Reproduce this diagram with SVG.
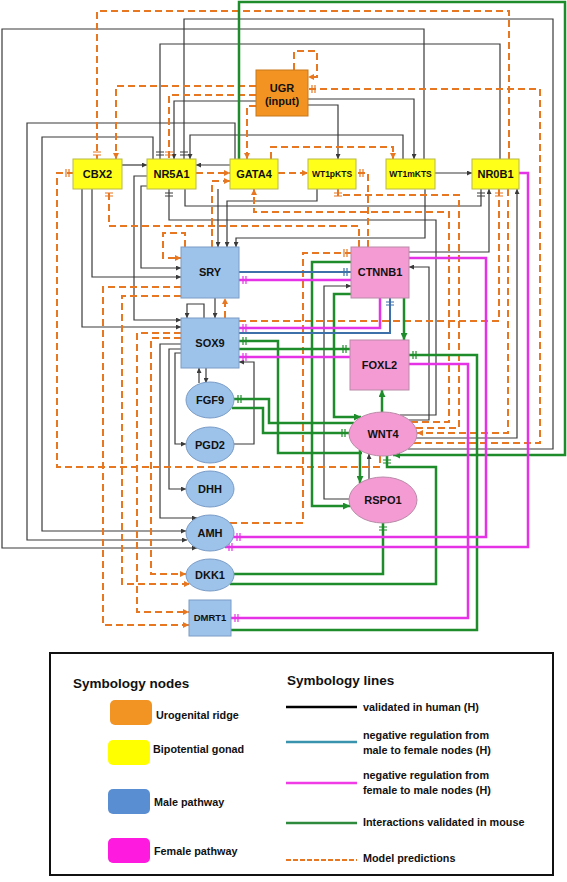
<svg xmlns="http://www.w3.org/2000/svg" width="567" height="882" viewBox="0 0 567 882">
<defs>
<style>
.k{stroke:#3a3a3a;stroke-width:1.2;fill:none}
.o{stroke:#E87722;stroke-width:2;stroke-dasharray:7 4;fill:none}
.g{stroke:#1E8C2A;stroke-width:2.5;fill:none}
.m{stroke:#E632E6;stroke-width:2.5;fill:none}
.b{stroke:#3D6FA8;stroke-width:2;fill:none}
.yel{fill:#FFFF1A;stroke:#B8B84A;stroke-width:1}
.blu{fill:#9DC3EB;stroke:#7A9CC6;stroke-width:1}
.pnk{fill:#F49BD3;stroke:#B98AA8;stroke-width:1}
.org{fill:#F39422;stroke:#C8781A;stroke-width:1}
.lbl{font-family:"Liberation Sans",Arial,sans-serif;font-weight:bold;font-size:11px;fill:#111;text-anchor:middle}
.sm{font-size:8.5px}
.lg{font-family:"Liberation Sans",Arial,sans-serif;font-weight:bold;font-size:10.8px;fill:#111}
.lh{font-family:"Liberation Sans",Arial,sans-serif;font-weight:bold;font-size:13.5px;fill:#111}
</style>
<marker id="aK" viewBox="0 0 6 6" refX="6" refY="3" markerWidth="6" markerHeight="5" orient="auto" markerUnits="userSpaceOnUse"><path d="M0,0L6,3L0,6z" fill="#3a3a3a"/></marker>
<marker id="aO" viewBox="0 0 6 6" refX="6" refY="3" markerWidth="6" markerHeight="6" orient="auto" markerUnits="userSpaceOnUse"><path d="M0,0L6,3L0,6z" fill="#E87722"/></marker>
<marker id="aG" viewBox="0 0 6 6" refX="6" refY="3" markerWidth="7" markerHeight="7" orient="auto" markerUnits="userSpaceOnUse"><path d="M0,0L6,3L0,6z" fill="#1E8C2A"/></marker>
<marker id="tK" viewBox="0 0 10 10" refX="10" refY="5" markerWidth="10" markerHeight="10" orient="auto" markerUnits="userSpaceOnUse"><path d="M3,1V9M6,1V9" stroke="#3a3a3a" stroke-width="1"/></marker>
<marker id="tO" viewBox="0 0 10 10" refX="10" refY="5" markerWidth="10" markerHeight="10" orient="auto" markerUnits="userSpaceOnUse"><path d="M3,1V9M6,1V9" stroke="#E87722" stroke-width="1.2"/></marker>
<marker id="tG" viewBox="0 0 10 10" refX="10" refY="5" markerWidth="10" markerHeight="10" orient="auto" markerUnits="userSpaceOnUse"><path d="M3,1V9M6,1V9" stroke="#1E8C2A" stroke-width="1.2"/></marker>
<marker id="tM" viewBox="0 0 10 10" refX="10" refY="5" markerWidth="10" markerHeight="10" orient="auto" markerUnits="userSpaceOnUse"><path d="M3,1V9M6,1V9" stroke="#E632E6" stroke-width="1.2"/></marker>
<marker id="tB" viewBox="0 0 10 10" refX="10" refY="5" markerWidth="10" markerHeight="10" orient="auto" markerUnits="userSpaceOnUse"><path d="M3,1V9M6,1V9" stroke="#3D6FA8" stroke-width="1.2"/></marker>
</defs>
<rect width="567" height="882" fill="#fff"/>
<g id="connectors">
<g id="black-lines" marker-end="url(#aK)">
<path class="k" d="M424,159V29H2V548H197"/>
<path class="k" d="M408,449H553V19H184V159" marker-end="url(#tK)"/>
<path class="k" d="M500,159V44H160V159" marker-end="url(#tK)"/>
<path class="k" d="M256,101H174V159"/>
<path class="k" d="M403,159V135H190V159"/>
<path class="k" d="M235,159V123H27V540H187"/>
<path class="k" d="M153,159V137H42V531H186"/>
<path class="k" d="M308,99H414V159"/>
<path class="k" d="M308,105H338V159"/>
<path class="k" d="M122,165H147"/>
<path class="k" d="M230,165H196"/>
<path class="k" d="M435,173H472"/>
<path class="k" d="M82,189V327H181"/>
<path class="k" d="M92,189V277H181"/>
<path class="k" d="M147,176H134V320H181"/>
<path class="k" d="M147,186H141V268H181"/>
<path class="k" d="M400,415H436V220H169V189" marker-end="url(#tK)"/>
<path class="k" d="M185,189V206H481V189" marker-end="url(#tK)"/>
<path class="k" d="M218,189V247"/>
<path class="k" d="M317,189V201H227V247"/>
<path class="k" d="M425,189V238H236V247"/>
<path class="k" d="M409,252H489V189"/>
<path class="k" d="M409,420H429V267H409"/>
<path class="k" d="M349,499H324V286H351"/>
<path class="k" d="M369,479V454"/>
<path class="k" d="M416,438H517V189"/>
<path class="k" d="M215,298V318"/>
<path class="k" d="M204,318V304H187V318"/>
<path class="k" d="M181,344H160V518H197"/>
<path class="k" d="M181,349H169V489H186"/>
<path class="k" d="M181,353H175V444H186"/>
<path class="k" d="M234,444H254V362H239"/>
<path class="k" d="M199,383V368"/>
<path class="k" d="M206,368V383"/>
</g>
<g id="orange-lines" marker-end="url(#aO)">
<path class="o" d="M509,159V11H97V159" marker-end="url(#tO)"/>
<path class="o" d="M508,189V433H417"/>
<path class="o" d="M294,70V51H317V77H308"/>
<path class="o" d="M256,86H116V159"/>
<path class="o" d="M256,95H169V159" marker-end="url(#tO)"/>
<path class="o" d="M256,106H247V159"/>
<path class="o" d="M414,443H540V89H308" marker-end="url(#tO)"/>
<path class="o" d="M271,159V147H393V159"/>
<path class="o" d="M196,173H230"/>
<path class="o" d="M278,173H308"/>
<path class="o" d="M368,247V173H356" marker-end="url(#tO)"/>
<path class="o" d="M359,247V226H109V189" marker-end="url(#tO)"/>
<path class="o" d="M380,456V467H57V173H73" marker-end="url(#tO)"/>
<path class="o" d="M416,428H459V195H338V189" marker-end="url(#tO)"/>
<path class="o" d="M411,422H449V212H254V189"/>
<path class="o" d="M212,247V181H230"/>
<path class="o" d="M185,247V233H163V258H181"/>
<path class="o" d="M230,523H303V253H351" marker-end="url(#tO)"/>
<path class="o" d="M239,321H499V189" marker-end="url(#tO)"/>
<path class="o" d="M181,287H103V625H189"/>
<path class="o" d="M181,296H122V584H190"/>
<path class="o" d="M181,333H137V612H189"/>
<path class="o" d="M181,338H151V574H186"/>
<path class="o" d="M225,318V298"/>
</g>
<g id="green-lines" marker-end="url(#aG)">
<path class="g" d="M239,159V2H565V455H393"/>
<path class="g" d="M362,453H278V341H239" marker-end="url(#tG)"/>
<path class="g" d="M239,349H350" marker-end="url(#tG)"/>
<path class="g" d="M354,423H269V399H234" marker-end="url(#tG)"/>
<path class="g" d="M232,408H263V433H349" marker-end="url(#tG)"/>
<path class="g" d="M404,298V340"/>
<path class="g" d="M382,412V390"/>
<path class="g" d="M351,262H312V506H350"/>
<path class="g" d="M351,294H334V417H361"/>
<path class="g" d="M360,450V483"/>
<path class="g" d="M230,584H436V467H387V456" marker-end="url(#tG)"/>
<path class="g" d="M234,574H383V523" marker-end="url(#tG)"/>
<path class="g" d="M231,630H477V355H409" marker-end="url(#tG)"/>
</g>
<g id="magenta-lines" marker-end="url(#tM)">
<path class="m" d="M409,258H486V537H233"/>
<path class="m" d="M519,173H528V547H225"/>
<path class="m" d="M409,364H468V618H231"/>
<path class="m" d="M380,298V328H239"/>
<path class="m" d="M351,280H239"/>
<path class="m" d="M350,357H239"/>
</g>
<g id="blue-lines" marker-end="url(#tB)">
<path class="b" d="M239,333H390V298"/>
<path class="b" d="M239,272H351"/>
</g>
</g>
<g id="UGR"><rect class="org" x="256" y="70" width="52" height="46"/><text class="lbl" x="282" y="92">UGR</text><text class="lbl" x="282" y="105">(input)</text></g>
<g id="CBX2"><rect class="yel" x="73" y="159" width="49" height="30"/><text class="lbl" x="97.5" y="178">CBX2</text></g>
<g id="NR5A1"><rect class="yel" x="147" y="159" width="49" height="30"/><text class="lbl" x="171.5" y="178">NR5A1</text></g>
<g id="GATA4"><rect class="yel" x="230" y="159" width="48" height="30"/><text class="lbl" x="254" y="178">GATA4</text></g>
<g id="WT1pKTS"><rect class="yel" x="308" y="159" width="48" height="30"/><text class="lbl sm" x="332" y="177">WT1pKTS</text></g>
<g id="WT1mKTS"><rect class="yel" x="386" y="159" width="49" height="30"/><text class="lbl sm" x="410.5" y="177">WT1mKTS</text></g>
<g id="NR0B1"><rect class="yel" x="472" y="159" width="47" height="30"/><text class="lbl" x="495.5" y="178">NR0B1</text></g>
<g id="SRY"><rect class="blu" x="181" y="247" width="58" height="51"/><text class="lbl" x="210" y="276">SRY</text></g>
<g id="SOX9"><rect class="blu" x="181" y="318" width="58" height="50"/><text class="lbl" x="210" y="347">SOX9</text></g>
<g id="FGF9"><ellipse class="blu" cx="210" cy="400" rx="24" ry="18"/><text class="lbl" x="210" y="404">FGF9</text></g>
<g id="PGD2"><ellipse class="blu" cx="210" cy="445" rx="24" ry="18"/><text class="lbl" x="210" y="449">PGD2</text></g>
<g id="DHH"><ellipse class="blu" cx="210" cy="489" rx="24" ry="18"/><text class="lbl" x="210" y="493">DHH</text></g>
<g id="AMH"><ellipse class="blu" cx="210" cy="533" rx="24" ry="18"/><text class="lbl" x="210" y="537">AMH</text></g>
<g id="DKK1"><ellipse class="blu" cx="210" cy="575" rx="24" ry="16"/><text class="lbl" x="210" y="579">DKK1</text></g>
<g id="DMRT1"><rect class="blu" x="189" y="600" width="42" height="36"/><text class="lbl" x="210" y="621" style="font-size:9.5px">DMRT1</text></g>
<g id="CTNNB1"><rect class="pnk" x="351" y="247" width="58" height="51"/><text class="lbl" x="380" y="276">CTNNB1</text></g>
<g id="FOXL2"><rect class="pnk" x="350" y="340" width="59" height="50"/><text class="lbl" x="379.5" y="369">FOXL2</text></g>
<g id="WNT4"><ellipse class="pnk" cx="383" cy="434" rx="34" ry="22"/><text class="lbl" x="383" y="438">WNT4</text></g>
<g id="RSPO1"><ellipse class="pnk" cx="383" cy="500" rx="34" ry="23"/><text class="lbl" x="383" y="504">RSPO1</text></g>
<g id="legend">
<rect x="50" y="653" width="503" height="222" fill="#fff" stroke="#111" stroke-width="2"/>
<text class="lh" x="73" y="688">Symbology nodes</text>
<rect x="110" y="700" width="42" height="25" rx="5" fill="#F29423"/>
<text class="lg" x="156" y="719">Urogenital ridge</text>
<rect x="108" y="740" width="42" height="25" rx="5" fill="#FFFF00"/>
<text class="lg" x="153" y="753">Bipotential gonad</text>
<rect x="108" y="789" width="42" height="25" rx="5" fill="#5A8ED3"/>
<text class="lg" x="154" y="806">Male pathway</text>
<rect x="108" y="838" width="42" height="25" rx="5" fill="#FF1AE0"/>
<text class="lg" x="154" y="855">Female pathway</text>
<text class="lh" x="287" y="685">Symbology lines</text>
<line x1="286" y1="707" x2="357" y2="707" stroke="#000" stroke-width="2.5"/>
<text class="lg" x="363" y="711">validated in human (H)</text>
<line x1="286" y1="742" x2="357" y2="742" stroke="#3A93AE" stroke-width="2.5"/>
<text class="lg" x="363" y="739">negative regulation from</text>
<text class="lg" x="363" y="754">male to female nodes (H)</text>
<line x1="286" y1="783" x2="357" y2="783" stroke="#F03CE6" stroke-width="2.5"/>
<text class="lg" x="363" y="779">negative regulation from</text>
<text class="lg" x="363" y="794">female to male nodes (H)</text>
<line x1="286" y1="823" x2="357" y2="823" stroke="#2E8B3E" stroke-width="2.5"/>
<text class="lg" x="363" y="826">Interactions validated in mouse</text>
<line x1="286" y1="860" x2="357" y2="860" stroke="#E87722" stroke-width="2" stroke-dasharray="5 2"/>
<text class="lg" x="363" y="862">Model predictions</text>
</g>
</svg>
